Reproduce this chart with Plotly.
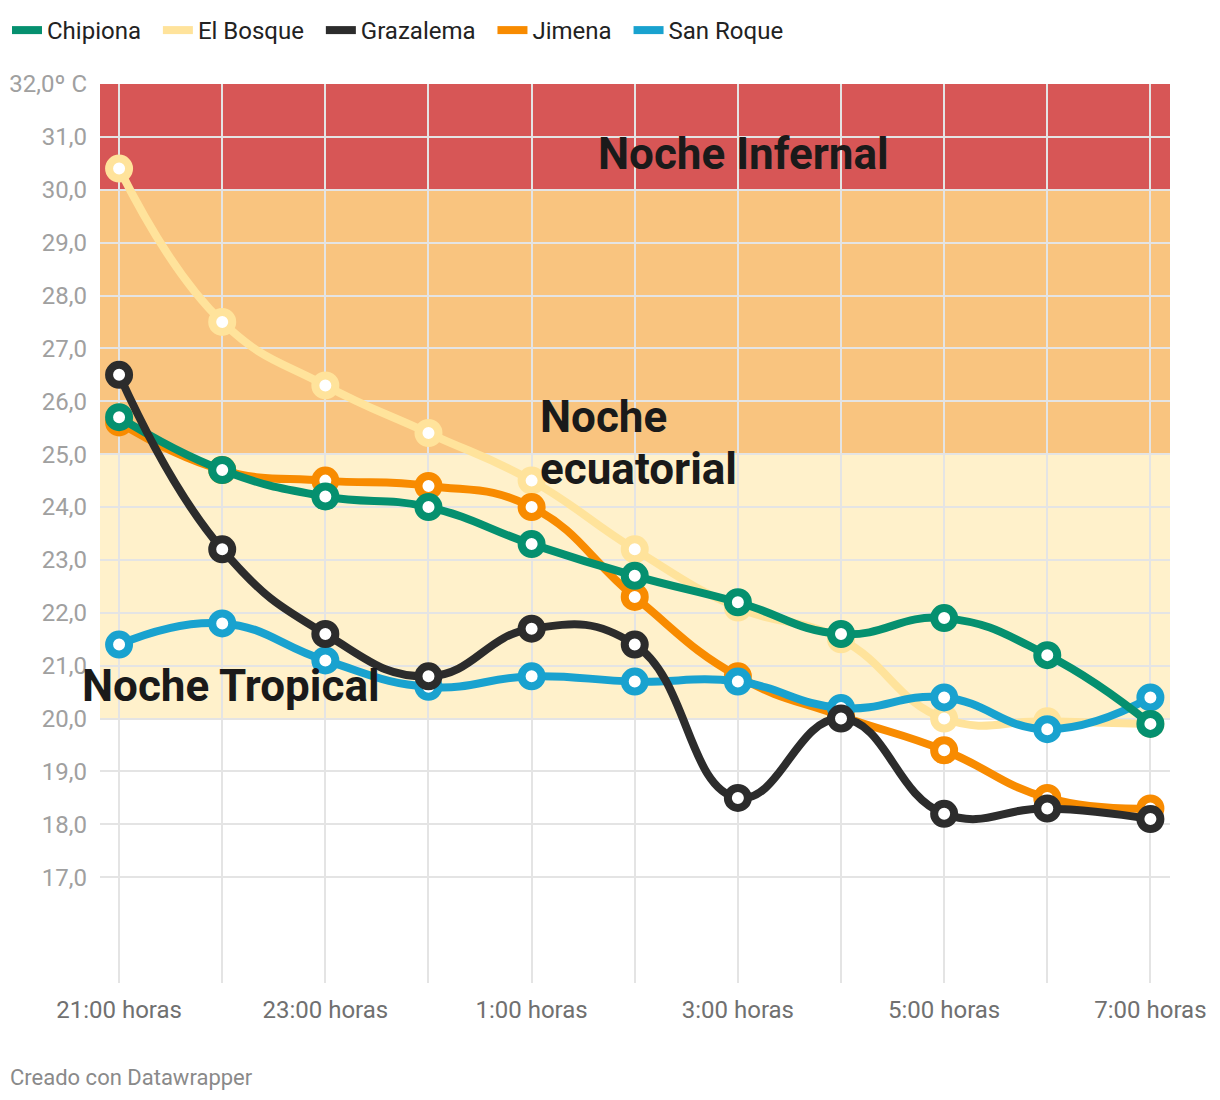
import plotly.graph_objects as go

hours = ["21:00 horas", "22:00 horas", "23:00 horas", "0:00 horas", "1:00 horas", "2:00 horas",
         "3:00 horas", "4:00 horas", "5:00 horas", "6:00 horas", "7:00 horas"]
tick_labels = ["21:00 horas", "", "23:00 horas", "", "1:00 horas", "", "3:00 horas", "", "5:00 horas", "", "7:00 horas"]

chipiona = [25.7, 24.7, 24.2, 24.0, 23.3, 22.7, 22.2, 21.6, 21.9, 21.2, 19.9]
el_bosque = [30.4, 27.5, 26.3, 25.4, 24.5, 23.2, 22.1, 21.5, 20.0, 19.95, 19.9]
grazalema = [26.5, 23.2, 21.6, 20.8, 21.7, 21.4, 18.5, 20.0, 18.2, 18.3, 18.1]
jimena = [25.6, 24.7, 24.5, 24.4, 24.0, 22.3, 20.8, 20.05, 19.4, 18.5, 18.3]
san_roque = [21.4, 21.8, 21.1, 20.6, 20.8, 20.7, 20.7, 20.2, 20.4, 19.8, 20.4]

y_ticks = [17, 18, 19, 20, 21, 22, 23, 24, 25, 26, 27, 28, 29, 30, 31, 32]
y_tick_text = ["17,0", "18,0", "19,0", "20,0", "21,0", "22,0", "23,0", "24,0", "25,0",
               "26,0", "27,0", "28,0", "29,0", "30,0", "31,0", "32,0º C"]

bands = [(20, 25, "#fff1cb"), (25, 30, "#f9c47f"), (30, 32, "#d75656")]

series = [
    ("El Bosque", el_bosque, "#ffe39b", 2),
    ("Jimena", jimena, "#f88b00", 4),
    ("San Roque", san_roque, "#19a2cf", 5),
    ("Chipiona", chipiona, "#05906f", 1),
    ("Grazalema", grazalema, "#2c2c2c", 3),
]

W, H = 1220, 1100
L, T = 100, 84
PW, PH = 1070, 899

fig = go.Figure()

for name, vals, color, rank in series:
    fig.add_trace(go.Scatter(
        x=hours, y=vals, name=name, mode="lines+markers",
        line=dict(color=color, width=8, shape="spline", smoothing=1.3),
        marker=dict(size=20, color="white", line=dict(color=color, width=8)),
        showlegend=False, hoverinfo="skip",
    ))

for name, vals, color, rank in series:
    fig.add_trace(go.Scatter(
        x=[None], y=[None], name=name + "\u00a0\u00a0", mode="lines",
        line=dict(color=color, width=8), legendrank=rank, showlegend=True,
    ))

for y0, y1, c in bands:
    fig.add_shape(type="rect", xref="paper", yref="y", x0=0, x1=1, y0=y0, y1=y1,
                  fillcolor=c, line=dict(width=0), layer="below")

ann_font = dict(family="Roboto", size=44, color="#1a1a1a")
fig.add_annotation(x=(596 - 100) / PW, y=30.68, xref="paper", yref="y", text="<b>Noche Infernal</b>",
                   showarrow=False, xanchor="left", yanchor="middle", font=ann_font)
fig.add_annotation(x=(538 - 100) / PW, y=25.70, xref="paper", yref="y", text="<b>Noche</b>",
                   showarrow=False, xanchor="left", yanchor="middle", font=ann_font)
fig.add_annotation(x=(538 - 100) / PW, y=24.72, xref="paper", yref="y", text="<b>ecuatorial</b>",
                   showarrow=False, xanchor="left", yanchor="middle", font=ann_font)
fig.add_annotation(x=(80 - 100) / PW, y=20.62, xref="paper", yref="y", text="<b>Noche Tropical</b>",
                   showarrow=False, xanchor="left", yanchor="middle", font=ann_font)

fig.add_annotation(x=-92 / PW, y=-94 / PH, xref="paper", yref="paper", text="Creado con Datawrapper",
                   showarrow=False, xanchor="left", yanchor="middle",
                   font=dict(family="Roboto", size=22, color="#8a8a8a"))

fig.update_layout(
    width=W, height=H,
    margin=dict(l=L, r=W - L - PW, t=T, b=H - T - PH, autoexpand=False),
    paper_bgcolor="white", plot_bgcolor="white",
    font=dict(family="Roboto", color="#333"),
    legend=dict(orientation="h", x=-93 / PW, xanchor="left", y=1 + 76 / PH, yanchor="top",
                font=dict(family="Roboto", size=24, color="#222"), itemwidth=30,
                tracegroupgap=0, bgcolor="rgba(0,0,0,0)"),
    xaxis=dict(type="category", range=[-0.185, 10.19], tickvals=hours, ticktext=tick_labels,
               showgrid=True, gridcolor="#e4e4e4", gridwidth=2, zeroline=False, showline=False,
               ticks="", ticklabelstandoff=10, automargin=False,
               tickfont=dict(family="Roboto", size=24, color="#707070")),
    yaxis=dict(range=[15, 32], tickvals=y_ticks, ticktext=y_tick_text,
               showgrid=True, gridcolor="#e4e4e4", gridwidth=2, zeroline=False, showline=False,
               ticks="", ticklabelstandoff=12, automargin=False,
               tickfont=dict(family="Roboto", size=24, color="#a0a0a0")),
)

fig.write_html("out.html", config={"displayModeBar": False},
               post_script="document.body.style.margin='0';document.body.style.overflow='hidden';")
